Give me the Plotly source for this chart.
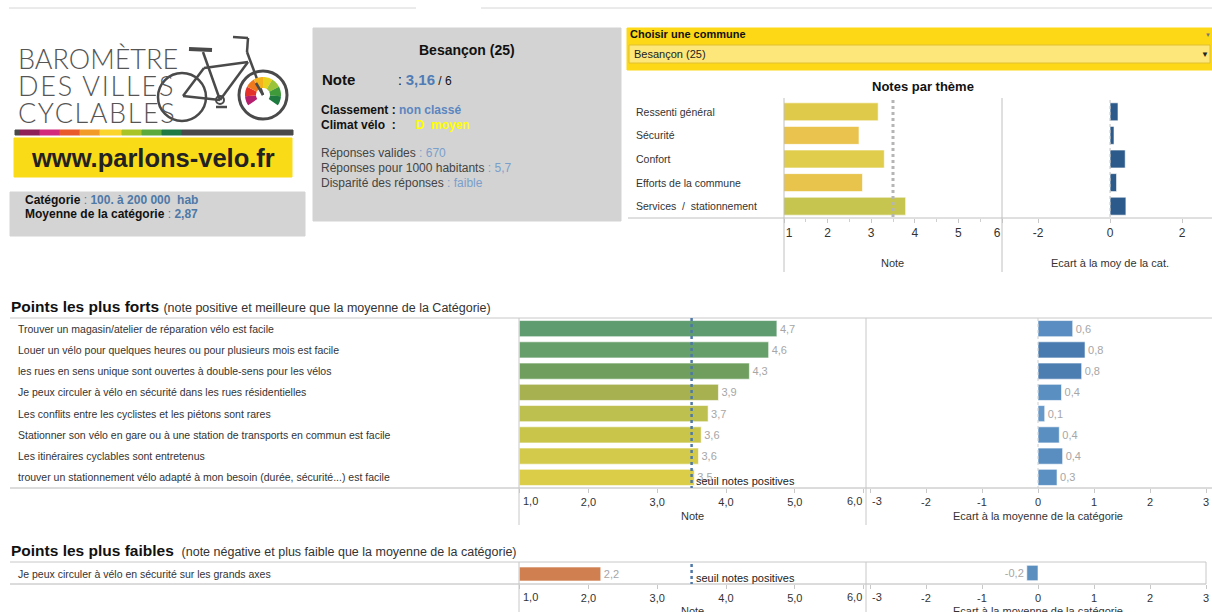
import numpy as np
import plotly.graph_objects as go

W, H = 1212, 612
FONT = "Liberation Sans, Arial, sans-serif"
BLUE = "#4e79a7"

# ---- data ----
city = "Besançon (25)"
city_note = 3.16
note_max = 6
category = "100. à 200 000  hab"
category_mean = 2.87
classement = "non classé"
climat = "D  moyen"
responses = 670
responses_per_1000 = 5.7
disparity = "faible"

theme_labels = ["Ressenti général", "Sécurité", "Confort",
                "Efforts de la commune", "Services  /  stationnement"]
theme_notes = [3.16, 2.72, 3.30, 2.80, 3.79]
theme_ecarts = [0.22, 0.11, 0.42, 0.18, 0.44]
theme_colors = ["#e0ca4a", "#e9c34d", "#dfcd4b", "#e8c44d", "#c6c54f"]

forts_labels = [
    "Trouver un magasin/atelier de réparation vélo est facile",
    "Louer un vélo pour quelques heures ou pour plusieurs mois est facile",
    "les rues en sens unique sont ouvertes à double-sens pour les vélos",
    "Je peux circuler à vélo en sécurité dans les rues résidentielles",
    "Les conflits entre les cyclistes et les piétons sont rares",
    "Stationner son vélo en gare ou à une station de transports en commun est facile",
    "Les itinéraires cyclables sont entretenus",
    "trouver un stationnement vélo adapté à mon besoin (durée, sécurité...) est facile",
]
forts_notes = [4.74, 4.62, 4.34, 3.89, 3.74, 3.64, 3.60, 3.54]
forts_ecarts = [0.62, 0.84, 0.78, 0.42, 0.12, 0.38, 0.44, 0.34]
forts_note_colors = ["#5f9c70", "#679f6a", "#6f9e5e", "#a7b150",
                     "#bdbf4e", "#c9c54b", "#d3c94a", "#dbcd47"]
forts_ecart_colors = ["#5a8dc1", "#4a7bb0", "#4d7eb2", "#5a8fc2",
                      "#6699c9", "#5a8fc2", "#5a8ec1", "#5b90c3"]

faibles_labels = ["Je peux circuler à vélo en sécurité sur les grands axes"]
faibles_notes = [2.18]
faibles_ecarts = [-0.2]
faibles_note_colors = ["#cf7f50"]
faibles_ecart_colors = ["#5b8fc0"]

seuil = 3.5
note_ticks = [1, 2, 3, 4, 5, 6]
ecart_ticks = [-3, -2, -1, 0, 1, 2, 3]
theme_ecart_ticks = [-2, 0, 2]


def fr(v, d=1):
    return f"{v:.{d}f}".replace(".", ",")


def px(x):
    return x / W


def py(y):
    return 1 - y / H


NB = "\u00a0"

fig = go.Figure()


def bar(x, y, colors, xa, ya, width, text=None):
    fig.add_trace(go.Bar(
        x=x, y=y, orientation="h", xaxis=xa, yaxis=ya, width=width,
        marker=dict(color=colors, line=dict(color="rgba(255,255,255,0.6)", width=1)),
        text=text, textposition="outside" if text else None,
        textfont=dict(size=11, color="#a6a6a6", family=FONT),
        cliponaxis=False, hoverinfo="skip", showlegend=False,
    ))


bar(theme_notes, theme_labels, theme_colors, "x", "y", 0.76)
bar(theme_ecarts, theme_labels, "#2c5a8a", "x2", "y2", 0.76)
bar(forts_notes, forts_labels, forts_note_colors, "x3", "y3", 0.76,
    [fr(v) for v in forts_notes])
bar(forts_ecarts, forts_labels, forts_ecart_colors, "x4", "y4", 0.76,
    [fr(v) for v in forts_ecarts])
bar(faibles_notes, faibles_labels, faibles_note_colors, "x5", "y5", 0.7,
    [fr(v) for v in faibles_notes])
bar(faibles_ecarts, faibles_labels, faibles_ecart_colors, "x6", "y6", 0.7,
    [fr(v) for v in faibles_ecarts])


def xaxis(x0, x1, rng, vals, texts, anchor, minor=None, size=11):
    d = dict(domain=[px(x0), px(x1)], range=rng, tickvals=vals, ticktext=texts,
             anchor=anchor, ticks="outside", ticklen=4, tickcolor="#c8c8c8",
             showline=False, showgrid=False, zeroline=False, automargin=False,
             tickfont=dict(size=size, color="#333", family=FONT), fixedrange=True)
    if minor:
        d["minor"] = minor
    return d


def yaxis(y_bottom, y_top, cats, anchor):
    return dict(domain=[py(y_bottom), py(y_top)], type="category", anchor=anchor,
                categoryorder="array", categoryarray=cats, autorange="reversed",
                showticklabels=False, showgrid=False, zeroline=False,
                showline=False, fixedrange=True, automargin=False)


# edge labels of the lower panels are drawn as annotations (aligned inside)
note_texts = [""] + [fr(v) for v in note_ticks[1:-1]] + [""]
ecart_texts = [""] + [str(v) for v in ecart_ticks[1:]]
theme_note_texts = [NB * 3 + str(note_ticks[0])] + [str(v) for v in note_ticks[1:-1]] \
    + [str(note_ticks[-1]) + NB * 3]

layout = dict(
    width=W, height=H, autosize=False, margin=dict(l=0, r=0, t=0, b=0, pad=0),
    paper_bgcolor="white", plot_bgcolor="rgba(0,0,0,0)",
    font=dict(family=FONT, color="#333"), showlegend=False,
    xaxis=xaxis(784, 1002, [1, 6], note_ticks, theme_note_texts, "y",
                minor=dict(tickvals=[1.5, 2.5, 3.5, 4.5, 5.5], ticks="outside",
                           ticklen=3, tickcolor="#d0d0d0"), size=12),
    yaxis=yaxis(218, 100, theme_labels, "x"),
    xaxis2=xaxis(1002, 1212, [-3, 2.83], theme_ecart_ticks,
                 [str(v) for v in theme_ecart_ticks], "y2", size=12),
    yaxis2=yaxis(218, 100, theme_labels, "x2"),
    xaxis3=xaxis(519.6, 863.6, [1, 6], note_ticks, note_texts, "y3"),
    yaxis3=yaxis(488, 318, forts_labels, "x3"),
    xaxis4=xaxis(870, 1206, [-3, 3], ecart_ticks, ecart_texts, "y4"),
    yaxis4=yaxis(488, 318, forts_labels, "x4"),
    xaxis5=xaxis(519.6, 863.6, [1, 6], note_ticks, note_texts, "y5"),
    yaxis5=yaxis(584, 562, faibles_labels, "x5"),
    xaxis6=xaxis(870, 1206, [-3, 3], ecart_ticks, ecart_texts, "y6"),
    yaxis6=yaxis(584, 562, faibles_labels, "x6"),
)

shapes = []
annotations = []


def line(x0, y0, x1, y1, color="#c8c8c8", width=1, dash=None):
    shapes.append(dict(type="line", xref="paper", yref="paper",
                       x0=px(x0), y0=py(y0), x1=px(x1), y1=py(y1),
                       line=dict(color=color, width=width, dash=dash)))


def rect(x0, y0, x1, y1, fill, border=None):
    shapes.append(dict(type="rect", xref="paper", yref="paper", layer="below",
                       x0=px(x0), y0=py(y0), x1=px(x1), y1=py(y1), fillcolor=fill,
                       line=dict(color=border or fill, width=1)))


def text(x, y, s, size=12, color="#333", anchor="left", weight=None, family=FONT):
    f = dict(size=size, color=color, family=family)
    if weight:
        f["weight"] = weight
    annotations.append(dict(xref="paper", yref="paper", x=px(x), y=py(y), text=s,
                            showarrow=False, xanchor=anchor, yanchor="middle",
                            font=f, borderpad=0))


def row_label(lab, yref, x, size=10.5):
    annotations.append(dict(xref="paper", yref=yref, x=px(x), y=lab, text=lab,
                            showarrow=False, xanchor="left", yanchor="middle",
                            font=dict(size=size, color="#333", family=FONT)))


def tick_label(xa, x, s, y, anchor, shift):
    annotations.append(dict(xref=xa, yref="paper", x=x, y=py(y), text=s,
                            showarrow=False, xanchor=anchor, yanchor="middle",
                            xshift=shift, borderpad=0,
                            font=dict(size=11, color="#333", family=FONT)))


def vline_axis(xa, x, y0, y1, color, width, dash):
    shapes.append(dict(type="line", xref=xa, yref="paper", x0=x, x1=x,
                       y0=py(y0), y1=py(y1), line=dict(color=color, width=width, dash=dash)))


# top separators
line(9, 8, 416, 8, "#d6d6d6")
line(481, 8, 1212, 8, "#d6d6d6")

# ---- logo ----
LOGO_FONT = "Lato, Open Sans, sans-serif"
text(17, 59, "BAROMÈTRE", 27, "#555", family=LOGO_FONT, weight=300)
text(17, 86, f"<span style='letter-spacing:1.8px'>DES{NB}VILLES</span>", 27, "#555",
     family=LOGO_FONT, weight=300)
text(17, 112, "<span style='letter-spacing:1.6px'>CYCLABLES</span>", 27, "#555",
     family=LOGO_FONT, weight=300)

bike = "#4a4a4a"
shapes.append(dict(type="circle", xref="paper", yref="paper",
                   x0=px(158), x1=px(206), y0=py(73), y1=py(121),
                   line=dict(color=bike, width=2.5)))
shapes.append(dict(type="circle", xref="paper", yref="paper",
                   x0=px(239), x1=px(287), y0=py(71), y1=py(119),
                   line=dict(color=bike, width=3)))
for seg in [((189, 49), (212, 50), 4), ((203, 52), (220, 100), 2.5),
            ((204, 68), (248, 62), 2.5), ((248, 62), (220, 100), 2.5),
            ((247, 52), (263, 95), 2.5), ((233, 37), (248, 38), 2.5),
            ((248, 38), (247, 52), 2.5), ((204, 68), (183, 96), 2.5),
            ((183, 96), (220, 100), 2.5), ((216, 107), (227, 107), 2.5)]:
    (a, b), (c, d), w = seg
    line(a, b, c, d, bike, w)
shapes.append(dict(type="circle", xref="paper", yref="paper",
                   x0=px(216), x1=px(224), y0=py(96), y1=py(104),
                   line=dict(color=bike, width=2)))

gauge_colors = ["#b51f6e", "#e4322b", "#ef7a1e", "#f6b21a", "#e8d21c",
                "#9cc43a", "#3f9a3a", "#1f7a3f"]
cx, cy = 263, 95
angs = np.linspace(215, -35, len(gauge_colors) + 1)
for i, col in enumerate(gauge_colors):
    t = np.linspace(np.radians(angs[i]), np.radians(angs[i + 1]), 8)
    outer = [(cx + 18 * np.cos(a), cy - 18 * np.sin(a)) for a in t]
    inner = [(cx + 7 * np.cos(a), cy - 7 * np.sin(a)) for a in t[::-1]]
    pts = outer + inner
    path = "M " + " L ".join(f"{px(x):.5f},{py(y):.5f}" for x, y in pts) + " Z"
    shapes.append(dict(type="path", xref="paper", yref="paper", path=path,
                       fillcolor=col, line=dict(width=0)))
line(cx, cy, 256, 83, bike, 2.5)

stripe = [(15, 20, "#4a4a4a"), (20, 40, "#8e2157"), (40, 60, "#d42a7c"),
          (60, 80, "#e8582a"), (80, 100, "#f29b26"), (100, 122, "#fbd42c"),
          (122, 142, "#a9c427"), (142, 162, "#5caa3b"), (162, 182, "#1f7a43"),
          (182, 293, "#4a4a4a")]
for a, b, c in stripe:
    rect(a, 130, b, 135, c)
rect(14, 138, 292, 177, "#fadb17")
text(153, 158, "<b>www.parlons-velo.fr</b>", 25.5, "#222", anchor="center")

# category box
rect(10, 192, 305, 236, "#d4d4d4")
text(24, 200, f"<b>Catégorie</b><span style='color:{BLUE}'> : <b>{category.replace(' ', NB)}</b></span>", 12, "#111")
text(24, 214, f"<b>Moyenne de la catégorie</b><span style='color:{BLUE}'> : <b>{fr(category_mean, 2)}</b></span>", 12, "#111")

# info box
rect(313, 28, 621, 221, "#d3d3d3")
text(467, 50, f"<b>{city}</b>", 14, "#111", anchor="center")
text(321, 80, "<b>Note</b>", 15, "#111")
text(397, 80, f":{NB}<span style='color:#4f7cb6;font-size:15px'><b>{fr(city_note, 2)}</b></span>"
     f"<span style='font-size:12px'> / {note_max}</span>", 14, "#111")
text(320, 110, f"<b>Classement : </b><span style='color:#5b86c0'><b>{classement}</b></span>", 12, "#111")
text(320, 125, f"<b>Climat vélo{NB}{NB}:{NB}{NB}{NB}{NB}{NB}{NB}</b>"
     f"<span style='color:#ffff00'><b>{climat.replace(' ', NB)}</b></span>", 12, "#111")
lite = "#7a9fcc"
text(320, 153, f"Réponses valides<span style='color:{lite}'> : {responses}</span>", 12, "#444")
text(320, 168, f"Réponses pour 1000 habitants<span style='color:{lite}'> : {fr(responses_per_1000)}</span>", 12, "#444")
text(320, 183, f"Disparité des réponses<span style='color:{lite}'> : {disparity}</span>", 12, "#444")

# dropdown
rect(627, 28, 1212, 70, "#fcd816")
rect(629, 45, 1210, 63, "#fde77a", "#e0c030")
text(629, 34, "<b>Choisir une commune</b>", 11, "#111")
text(633, 54, city, 11, "#222")
text(1205, 54, "▼", 8, "#222", anchor="center")
text(1208, 35, "▼", 6, "#777", anchor="center")

# ---- notes par thème ----
text(923, 87, "<b>Notes par thème</b>", 13, "#111", anchor="center")
for lab in theme_labels:
    row_label(lab, "y", 634)
line(784, 98, 784, 272, "#c0c0c0")
line(1002, 98, 1002, 272, "#c0c0c0")
line(628, 218, 1212, 218, "#c0c0c0")
vline_axis("x", seuil, 100, 218, "#b5b5b5", 3, "dot")
vline_axis("x2", 0, 100, 218, "#c0c0c0", 1, "dot")
text(893, 263, "Note", 11, "#333", anchor="center")
text(1110, 263, "Ecart à la moy de la cat.", 11, "#333", anchor="center")

# ---- points forts ----
text(10, 306, "<b>Points les plus forts</b> <span style='font-size:12.5px;color:#333'>"
     "(note positive et meilleure que la moyenne de la Catégorie)</span>", 15.5, "#111")
for lab in forts_labels:
    row_label(lab, "y3", 16)
line(10, 318, 1212, 318, "#c8c8c8")
line(10, 488, 1212, 488, "#b8b8b8")
line(519, 318, 519, 525, "#c8c8c8")
line(866, 318, 866, 525, "#c8c8c8")
vline_axis("x3", seuil, 318, 488, "#4e79a7", 2.5, "dot")
vline_axis("x4", 0, 318, 488, "#cfcfcf", 1, "dot")
annotations.append(dict(xref="x3", yref="y3", x=seuil, y=forts_labels[-1],
                        text="seuil notes positives", showarrow=False, xanchor="left",
                        yanchor="middle", xshift=2, yshift=-4,
                        font=dict(size=11, color="#222", family=FONT)))
tick_label("x3", note_ticks[0], fr(note_ticks[0]), 501, "left", 2)
tick_label("x3", note_ticks[-1], fr(note_ticks[-1]), 501, "right", -1)
tick_label("x4", ecart_ticks[0], str(ecart_ticks[0]), 501, "left", 1)
text(692, 516, "Note", 11, "#333", anchor="center")
text(1038, 516, "Ecart à la moyenne de la catégorie", 11, "#333", anchor="center")

# ---- points faibles ----
text(10, 550, "<b>Points les plus faibles</b> <span style='font-size:12.5px;color:#333'>"
     " (note négative et plus faible que la moyenne de la catégorie)</span>", 15.5, "#111")
for lab in faibles_labels:
    row_label(lab, "y5", 16)
line(10, 562, 1206, 562, "#c8c8c8")
line(10, 584, 1206, 584, "#b8b8b8")
line(519, 562, 519, 612, "#c8c8c8")
line(866, 562, 866, 612, "#c8c8c8")
line(1206, 562, 1206, 584, "#c8c8c8")
vline_axis("x5", seuil, 564, 584, "#4e79a7", 2.5, "dot")
annotations.append(dict(xref="x5", yref="y5", x=seuil, y=faibles_labels[0],
                        text="seuil notes positives", showarrow=False, xanchor="left",
                        yanchor="middle", xshift=2, yshift=-4,
                        font=dict(size=11, color="#222", family=FONT)))
tick_label("x5", note_ticks[0], fr(note_ticks[0]), 597, "left", 2)
tick_label("x5", note_ticks[-1], fr(note_ticks[-1]), 597, "right", -1)
tick_label("x6", ecart_ticks[0], str(ecart_ticks[0]), 597, "left", 1)
text(692, 611, "Note", 11, "#333", anchor="center")
text(1038, 611, "Ecart à la moyenne de la catégorie", 11, "#333", anchor="center")

layout["shapes"] = shapes
layout["annotations"] = annotations
fig.update_layout(**layout)

fig.write_html(
    "out.html",
    config={"displayModeBar": False},
    post_script="document.body.style.margin='0';"
                "document.documentElement.style.overflow='hidden';"
                "document.body.style.overflow='hidden';",
)
